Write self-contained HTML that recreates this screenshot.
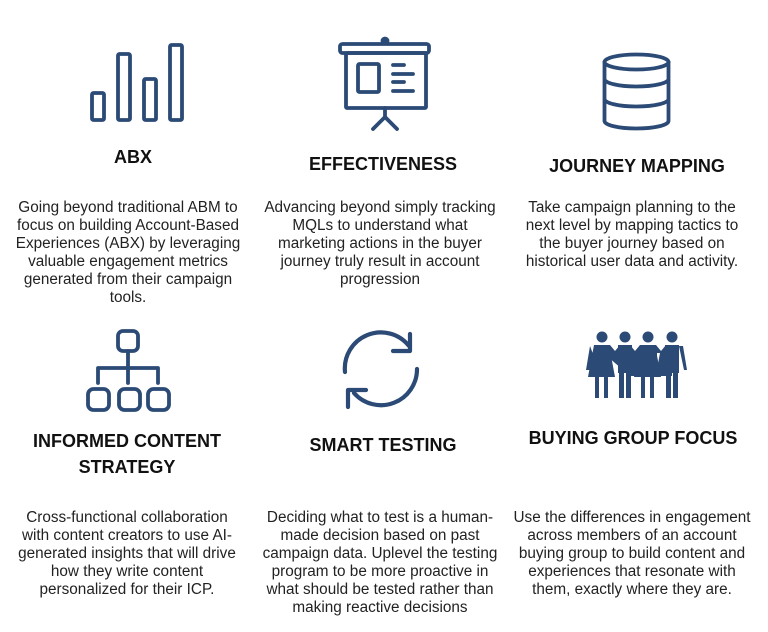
<!DOCTYPE html>
<html><head><style>
body{margin:0;width:768px;height:632px;background:#fff;position:relative;font-family:"Liberation Sans",sans-serif;color:#222;overflow:hidden}
.t{position:absolute;font-weight:bold;font-size:18px;text-align:center;line-height:26px;color:#111;white-space:nowrap}
.p{position:absolute;font-size:15.3px;line-height:18px;text-align:center;color:#222;white-space:nowrap}
svg{position:absolute;left:0;top:0}
</style></head><body>
<svg width="768" height="632" fill="none" stroke="#2b4a75" stroke-width="3.8" stroke-linecap="round" stroke-linejoin="round">
<rect x="92" y="93" width="12" height="27" rx="1.5"/>
<rect x="118" y="54" width="12" height="66" rx="1.5"/>
<rect x="144" y="79" width="12" height="41" rx="1.5"/>
<rect x="170" y="45" width="12" height="75" rx="1.5"/>
<rect x="340" y="44" width="89" height="9" rx="2.5"/>
<circle cx="385" cy="41" r="2.5" fill="#2b4a75"/>
<rect x="346" y="53" width="80" height="55" rx="1"/>
<rect x="358" y="64" width="21" height="28" rx="1.5"/>
<path d="M393 65h11M393 74h20M393 82h11M393 91h20M385 108v9M385 117l-12 12M385 117l12 12"/>
<ellipse cx="636.5" cy="62" rx="32" ry="7.5"/>
<path d="M604.5 62v59c0 4 14 7.5 32 7.5s32-3.5 32-7.5V62M604.5 79c0 4 14 7.5 32 7.5s32-3.5 32-7.5M604.5 99c0 4 14 7.5 32 7.5s32-3.5 32-7.5"/>
<rect x="118" y="331" width="20" height="20" rx="5"/>
<path d="M128 351v32M98 383v-15h60v15"/>
<rect x="88" y="389" width="21" height="21" rx="5.5"/>
<rect x="119" y="389" width="21" height="21" rx="5.5"/>
<rect x="148" y="389" width="21" height="21" rx="5.5"/>
<path stroke-width="4.2" d="M345 372A36 36 0 0 1 409 346M417 369A36 36 0 0 1 354 393M410 334v17h-17M348 407v-17h18"/>
<g fill="#2b4a75" stroke="none">
<circle cx="602" cy="337" r="5.5"/><circle cx="625" cy="337" r="5.5"/><circle cx="648" cy="337" r="5.5"/><circle cx="672" cy="337" r="5.5"/>
<path d="M594 345h16l5 6 5-6h10l5 6 5-6h16l5 6 5-6h9l4 24h-3.5l-3.5-16v23h-15v-7l3 -16 -3 0v6h-14v-6l-3 0 3 16v7h-15v-23l-3 16h-3zM590 346l-4 24h3.5l3.5-16z"/>
<path d="M594 345l-6 32h7v21h4v-21h5v21h4v-21h7l-6-32zM640 345l-6 32h7v21h4v-21h5v21h4v-21h7l-6-32z"/>
<rect x="618" y="345" width="14" height="28"/><rect x="619" y="372" width="5" height="26"/><rect x="626" y="372" width="5" height="26"/>
<rect x="665" y="345" width="14" height="28"/><rect x="666" y="372" width="5" height="26"/><rect x="673" y="372" width="5" height="26"/>
<path d="M679 346l5 24h3l-4-24z"/>
</g>
</svg>
<div class="t" style="left:33px;width:200px;top:144px">ABX</div>
<div class="t" style="left:263px;width:240px;top:151px">EFFECTIVENESS</div>
<div class="t" style="left:517px;width:240px;top:153px">JOURNEY MAPPING</div>
<div class="p" style="left:8px;width:240px;top:199px">Going beyond traditional ABM to<br>focus on building Account-Based<br>Experiences (ABX) by leveraging<br>valuable engagement metrics<br>generated from their campaign<br>tools.</div>
<div class="p" style="left:260px;width:240px;top:199px">Advancing beyond simply tracking<br>MQLs to understand what<br>marketing actions in the buyer<br>journey truly result in account<br>progression</div>
<div class="p" style="left:512px;width:240px;top:199px">Take campaign planning to the<br>next level by mapping tactics to<br>the buyer journey based on<br>historical user data and activity.</div>
<div class="t" style="left:7px;width:240px;top:428px">INFORMED CONTENT<br>STRATEGY</div>
<div class="t" style="left:263px;width:240px;top:432px">SMART TESTING</div>
<div class="t" style="left:513px;width:240px;top:425px">BUYING GROUP FOCUS</div>
<div class="p" style="left:7px;width:240px;top:509px">Cross-functional collaboration<br>with content creators to use AI-<br>generated insights that will drive<br>how they write content<br>personalized for their ICP.</div>
<div class="p" style="left:260px;width:240px;top:509px">Deciding what to test is a human-<br>made decision based on past<br>campaign data. Uplevel the testing<br>program to be more proactive in<br>what should be tested rather than<br>making reactive decisions</div>
<div class="p" style="left:512px;width:240px;top:509px">Use the differences in engagement<br>across members of an account<br>buying group to build content and<br>experiences that resonate with<br>them, exactly where they are.</div>
</body></html>
